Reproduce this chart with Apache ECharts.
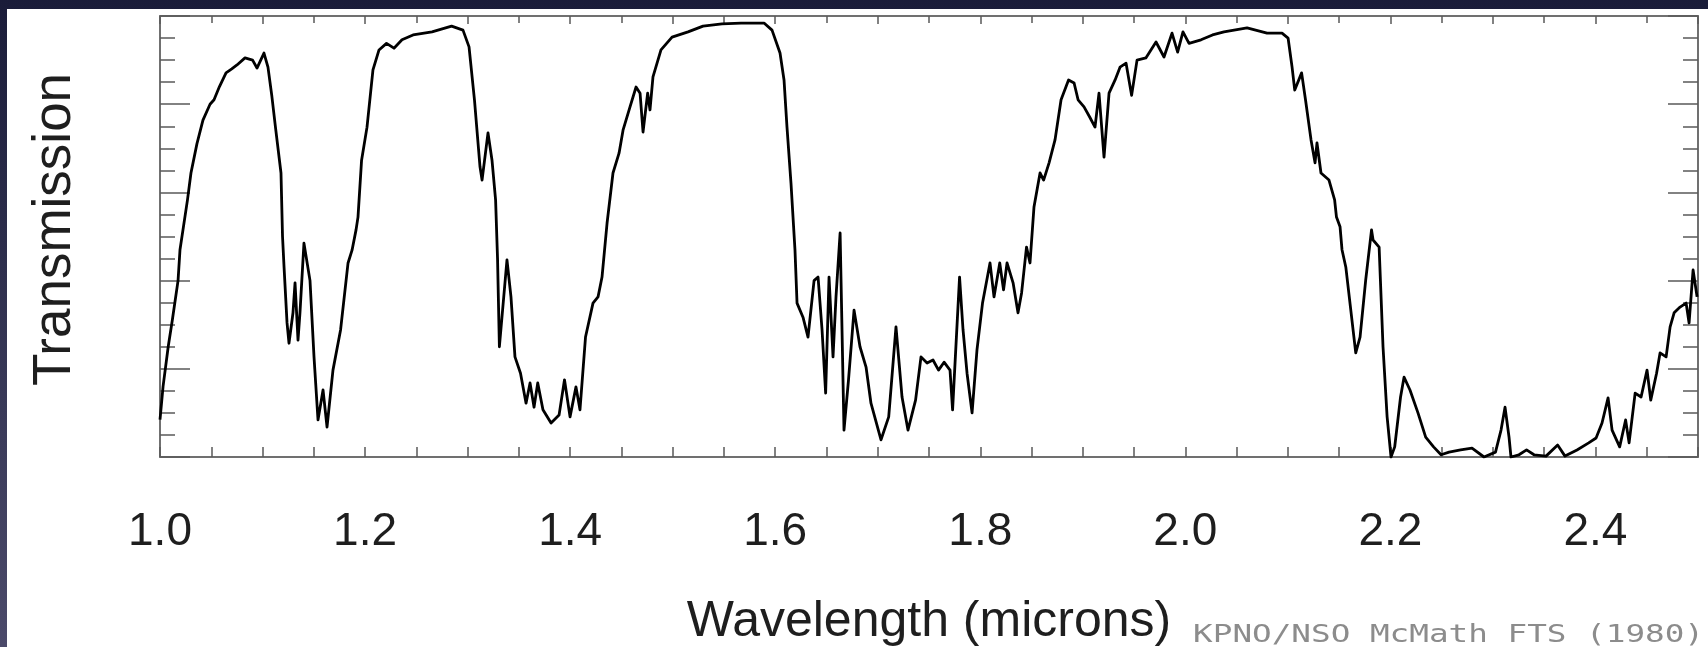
<!DOCTYPE html>
<html>
<head>
<meta charset="utf-8">
<script src="https://cdn.jsdelivr.net/npm/echarts@6/dist/echarts.min.js"></script>
<style>
  html, body { margin: 0; padding: 0; background: #1b1d3a; }
  #chart { width: 1708px; height: 647px; }
</style>
</head>
<body>
<div id="chart"></div>
<script>
// Wavelength (microns)
const wavelength = [
  1.000, 1.003, 1.008, 1.012, 1.0176, 1.0195, 1.0268, 1.0302, 1.036, 1.0419, 1.0488, 1.0527, 1.058, 1.0644, 1.070, 1.0751,
  1.0829, 1.0903, 1.0946, 1.1014, 1.1053, 1.109, 1.1126, 1.118, 1.1195, 1.121, 1.1239, 1.1258, 1.1297, 1.1317, 1.1346,
  1.1365, 1.1404, 1.1463, 1.1502, 1.1541, 1.159, 1.1629, 1.1687, 1.1761, 1.1834, 1.1873, 1.1912, 1.1931, 1.1966, 1.2019,
  1.2077, 1.2136, 1.2209, 1.2282, 1.236, 1.2468, 1.2653, 1.2844, 1.2955, 1.3014, 1.3067, 1.3121, 1.3141, 1.3199, 1.3238,
  1.3273, 1.3292, 1.331, 1.3384, 1.3423, 1.3462, 1.3516, 1.357, 1.3609, 1.3648, 1.3684, 1.3735, 1.3814, 1.3892, 1.3945,
  1.3999, 1.4057, 1.4096, 1.415, 1.4223, 1.4272, 1.4311, 1.436, 1.4418, 1.4477, 1.4516, 1.4584, 1.4643, 1.4682, 1.4711,
  1.4756, 1.4779, 1.4808, 1.4886, 1.4994, 1.515, 1.5296, 1.5481, 1.5667, 1.5891, 1.5969, 1.6047, 1.6086, 1.6115, 1.6154,
  1.6193, 1.6213, 1.6271, 1.632, 1.6379, 1.6418, 1.6457, 1.6492, 1.6525, 1.6564, 1.6593, 1.6633, 1.6671, 1.6715, 1.6769,
  1.6827, 1.6886, 1.6934, 1.7032, 1.7107, 1.7178, 1.7237, 1.7295, 1.7369, 1.7422, 1.7481, 1.7539, 1.7593, 1.7647, 1.7705,
  1.773, 1.7798, 1.7832, 1.7871, 1.792, 1.7968, 1.8022, 1.8095, 1.8134, 1.819, 1.8227, 1.8261, 1.832, 1.8368, 1.8403,
  1.8451, 1.8485, 1.8524, 1.8583, 1.8618, 1.8671, 1.8729, 1.8788, 1.8861, 1.8915, 1.8954, 1.9012, 1.9067, 1.9119, 1.9158,
  1.9207, 1.9256, 1.9315, 1.9363, 1.9422, 1.9476, 1.9529, 1.9615, 1.9714, 1.9792, 1.987, 1.9925, 1.9977, 2.0036, 2.0153,
  2.0265, 2.0377, 2.0602, 2.0797, 2.0943, 2.1002, 2.1041, 2.1067, 2.1134, 2.1172, 2.1226, 2.1265, 2.1284, 2.1323, 2.1401,
  2.1456, 2.1474, 2.1509, 2.1528, 2.1565, 2.1662, 2.1704, 2.1759, 2.1816, 2.1831, 2.189, 2.1928, 2.1968, 2.2006, 2.2042,
  2.2099, 2.2133, 2.2191, 2.2269, 2.2344, 2.2421, 2.2494, 2.2572, 2.2685, 2.2796, 2.2913, 2.3025, 2.3079, 2.3118, 2.3157,
  2.3176, 2.3254, 2.3328, 2.3401, 2.3518, 2.3631, 2.3703, 2.382, 2.3934, 2.4006, 2.4064, 2.4123, 2.4162, 2.4236, 2.4294,
  2.4328, 2.4387, 2.4445, 2.4503, 2.4539, 2.4596, 2.463, 2.4689, 2.4728, 2.4767, 2.4825, 2.4884, 2.4913, 2.4952, 2.4991
];
// Transmission (0..1)
const transmission = [
  0.085, 0.16, 0.25, 0.31, 0.40, 0.47, 0.583, 0.644, 0.71, 0.764, 0.80, 0.81, 0.84, 0.871, 0.88, 0.889,
  0.905, 0.90, 0.882, 0.916, 0.884, 0.82, 0.748, 0.644, 0.50, 0.43, 0.304, 0.258, 0.327, 0.395, 0.265,
  0.327, 0.485, 0.40, 0.227, 0.084, 0.152, 0.068, 0.197, 0.288, 0.44, 0.469, 0.515, 0.544, 0.673, 0.748,
  0.878, 0.923, 0.938, 0.927, 0.946, 0.957, 0.964, 0.977, 0.968, 0.93, 0.81, 0.658, 0.628, 0.735, 0.673,
  0.583, 0.45, 0.25, 0.447, 0.363, 0.227, 0.19, 0.122, 0.168, 0.113, 0.168, 0.107, 0.077, 0.095, 0.175,
  0.091, 0.159, 0.107, 0.272, 0.349, 0.363, 0.408, 0.53, 0.644, 0.689, 0.741, 0.794, 0.839, 0.825, 0.737,
  0.825, 0.787, 0.862, 0.923, 0.952, 0.964, 0.977, 0.982, 0.984, 0.984, 0.968, 0.916, 0.855, 0.748, 0.621,
  0.469, 0.349, 0.317, 0.272, 0.40, 0.408, 0.288, 0.145, 0.408, 0.227, 0.363, 0.508, 0.061, 0.175, 0.333,
  0.25, 0.204, 0.122, 0.039, 0.091, 0.295, 0.136, 0.061, 0.129, 0.227, 0.213, 0.22, 0.197, 0.215, 0.197,
  0.107, 0.408, 0.288, 0.19, 0.10, 0.243, 0.349, 0.44, 0.363, 0.44, 0.379, 0.44, 0.395, 0.327, 0.372,
  0.476, 0.44, 0.567, 0.644, 0.628, 0.667, 0.719, 0.81, 0.855, 0.848, 0.81, 0.794, 0.771, 0.748, 0.825,
  0.68, 0.825, 0.855, 0.884, 0.893, 0.82, 0.90, 0.905, 0.941, 0.907, 0.961, 0.918, 0.964, 0.938, 0.946,
  0.957, 0.964, 0.973, 0.961, 0.961, 0.950, 0.884, 0.832, 0.871, 0.81, 0.719, 0.667, 0.712, 0.644, 0.628,
  0.583, 0.544, 0.522, 0.47, 0.431, 0.236, 0.272, 0.401, 0.515, 0.492, 0.476, 0.25, 0.091, 0.0, 0.023,
  0.136, 0.181, 0.152, 0.10, 0.045, 0.023, 0.005, 0.011, 0.016, 0.02, 0.0, 0.011, 0.061, 0.113, 0.045,
  0.0, 0.005, 0.016, 0.005, 0.002, 0.027, 0.002, 0.016, 0.032, 0.043, 0.077, 0.134, 0.061, 0.023, 0.084,
  0.032, 0.145, 0.136, 0.197, 0.129, 0.19, 0.236, 0.227, 0.295, 0.327, 0.34, 0.349, 0.304, 0.424, 0.363
];
const xTickLabels = ['1.0', '1.2', '1.4', '1.6', '1.8', '2.0', '2.2', '2.4'];
const xTitle = 'Wavelength (microns)';
const yTitle = 'Transmission';
const credit = 'KPNO/NSO McMath FTS (1980)';

const seriesData = wavelength.map((w, i) => [w, transmission[i]]);

const chart = echarts.init(document.getElementById('chart'), null, { renderer: 'canvas' });
const frameColor = '#707070';
const tickColor = '#5a5a5a';
const font = '"Liberation Sans", Arial, Helvetica, sans-serif';

function labelFor(v) {
  const s = (Math.round(v * 10) / 10).toFixed(1);
  return xTickLabels.indexOf(s) >= 0 ? s : '';
}

chart.setOption({
  animation: false,
  backgroundColor: {
    type: 'linear', x: 0, y: 0, x2: 0, y2: 1,
    colorStops: [{ offset: 0, color: '#1a1c39' }, { offset: 1, color: '#4b4a6a' }]
  },
  graphic: [
    { type: 'rect', z: -100, silent: true, shape: { x: 7, y: 9, width: 1701, height: 638 }, style: { fill: '#ffffff' } },
    { type: 'text', z: 10, silent: true, x: 1704, y: 648, scaleX: 1.36, originX: 0, originY: 0,
      style: { text: credit, font: '24px "DejaVu Sans Mono", monospace', fill: '#8c8c8c', align: 'right', verticalAlign: 'bottom' } }
  ],
  grid: { left: 160, right: 10, top: 16, bottom: 190, containLabel: false, outerBoundsMode: 'none' },
  xAxis: [
    {
      type: 'value', position: 'bottom', min: 1.0, max: 2.5, interval: 0.1,
      name: xTitle, nameLocation: 'middle', nameGap: 140,
      nameTextStyle: { fontFamily: font, fontSize: 50, color: '#1e1e1e' },
      axisLine: { show: true, onZero: false, lineStyle: { color: frameColor, width: 2 } },
      axisTick: { show: true, inside: true, length: 10, lineStyle: { color: tickColor, width: 1.5 } },
      minorTick: { show: true, splitNumber: 2, length: 10, lineStyle: { color: tickColor, width: 1.5 } },
      axisLabel: { show: true, margin: 52, fontFamily: font, fontSize: 46, color: '#1e1e1e',
        showMaxLabel: false, formatter: labelFor },
      splitLine: { show: false }
    },
    {
      type: 'value', position: 'top', min: 1.0, max: 2.5, interval: 0.1,
      axisLine: { show: true, onZero: false, lineStyle: { color: frameColor, width: 2 } },
      axisTick: { show: true, inside: true, length: 8, lineStyle: { color: tickColor, width: 1.5 } },
      minorTick: { show: true, splitNumber: 2, length: 7, lineStyle: { color: tickColor, width: 1.5 } },
      axisLabel: { show: false },
      splitLine: { show: false }
    }
  ],
  yAxis: [
    {
      type: 'value', position: 'left', min: 0, max: 1, interval: 0.2,
      name: yTitle, nameLocation: 'middle', nameGap: 78, nameRotate: 90,
      nameTextStyle: { fontFamily: font, fontSize: 53, color: '#1e1e1e', padding: [0, 0, 0, 14] },
      axisLine: { show: true, onZero: false, lineStyle: { color: frameColor, width: 2 } },
      axisTick: { show: true, inside: true, length: 30, lineStyle: { color: tickColor, width: 1.5 } },
      minorTick: { show: true, splitNumber: 4, length: 15, lineStyle: { color: tickColor, width: 1.5 } },
      axisLabel: { show: false },
      splitLine: { show: false }
    },
    {
      type: 'value', position: 'right', min: 0, max: 1, interval: 0.2,
      axisLine: { show: true, onZero: false, lineStyle: { color: frameColor, width: 2 } },
      axisTick: { show: true, inside: true, length: 30, lineStyle: { color: tickColor, width: 1.5 } },
      minorTick: { show: true, splitNumber: 4, length: 15, lineStyle: { color: tickColor, width: 1.5 } },
      axisLabel: { show: false },
      splitLine: { show: false }
    }
  ],
  series: [{
    type: 'line',
    xAxisIndex: 0, yAxisIndex: 0,
    data: seriesData,
    showSymbol: false,
    smooth: false,
    clip: true,
    lineStyle: { color: '#000000', width: 2.8, join: 'round' },
    z: 5
  }]
});
</script>
</body>
</html>
